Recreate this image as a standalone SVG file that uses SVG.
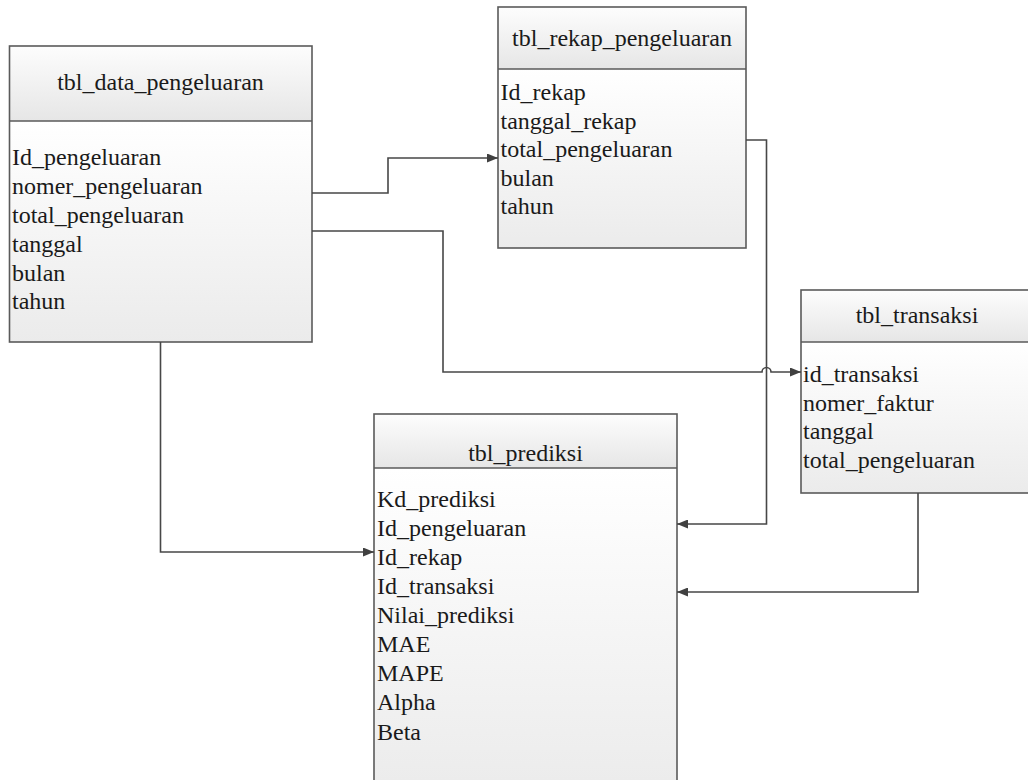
<svg xmlns="http://www.w3.org/2000/svg" width="1028" height="780" viewBox="0 0 1028 780">
<defs>
<linearGradient id="gHead" x1="0" y1="0" x2="0" y2="1">
<stop offset="0" stop-color="#fdfdfd"/>
<stop offset="1" stop-color="#e6e6e6"/>
</linearGradient>
<linearGradient id="gBody" x1="0" y1="0" x2="0" y2="1">
<stop offset="0" stop-color="#ffffff"/>
<stop offset="1" stop-color="#ebebeb"/>
</linearGradient>
<marker id="arr" markerUnits="userSpaceOnUse" markerWidth="11" markerHeight="9" refX="11" refY="4.5" orient="auto">
<path d="M0,0 L11,4.5 L0,9 z" fill="#404040"/>
</marker>
<style>
.box{stroke:#5a5a5a;stroke-width:1.6}
.hd{fill:url(#gHead)}
.bd{fill:url(#gBody)}
.t{font-size:24px;fill:#1a1a1a}
.c{text-anchor:middle}
.cn{fill:none;stroke:#474747;stroke-width:1.6;marker-end:url(#arr)}
</style>
</defs>
<rect width="1028" height="780" fill="#ffffff"/>

<g id="tbl_data_pengeluaran" font-family="'Liberation Serif', Tinos, 'DejaVu Serif', serif">
<rect class="hd" x="9.5" y="46" width="302.5" height="75"/>
<rect class="bd" x="9.5" y="121" width="302.5" height="221"/>
<rect class="box" fill="none" x="9.5" y="46" width="302.5" height="296"/>
<line class="box" x1="9.5" y1="121" x2="312" y2="121"/>
<text class="t c" x="160.5" y="90">tbl_data_pengeluaran</text>
<text class="t" x="12" y="165">Id_pengeluaran</text>
<text class="t" x="12" y="194">nomer_pengeluaran</text>
<text class="t" x="12" y="222.5">total_pengeluaran</text>
<text class="t" x="12" y="251.5">tanggal</text>
<text class="t" x="12" y="280.5">bulan</text>
<text class="t" x="12" y="309">tahun</text>
</g>

<g id="tbl_rekap_pengeluaran" font-family="'Liberation Serif', Tinos, 'DejaVu Serif', serif">
<rect class="hd" x="498" y="7" width="248" height="62"/>
<rect class="bd" x="498" y="69" width="248" height="179"/>
<rect class="box" fill="none" x="498" y="7" width="248" height="241"/>
<line class="box" x1="498" y1="69" x2="746" y2="69"/>
<text class="t c" x="622" y="46">tbl_rekap_pengeluaran</text>
<text class="t" x="500.5" y="100">Id_rekap</text>
<text class="t" x="500.5" y="129">tanggal_rekap</text>
<text class="t" x="500.5" y="157">total_pengeluaran</text>
<text class="t" x="500.5" y="186">bulan</text>
<text class="t" x="500.5" y="214">tahun</text>
</g>

<g id="tbl_transaksi" font-family="'Liberation Serif', Tinos, 'DejaVu Serif', serif">
<rect class="hd" x="801" y="290" width="232" height="52"/>
<rect class="bd" x="801" y="342" width="232" height="151"/>
<rect class="box" fill="none" x="801" y="290" width="232" height="203"/>
<line class="box" x1="801" y1="342" x2="1033" y2="342"/>
<text class="t c" x="917" y="323">tbl_transaksi</text>
<text class="t" x="803" y="382">id_transaksi</text>
<text class="t" x="803" y="411">nomer_faktur</text>
<text class="t" x="803" y="439">tanggal</text>
<text class="t" x="803" y="468">total_pengeluaran</text>
</g>

<g id="tbl_prediksi" font-family="'Liberation Serif', Tinos, 'DejaVu Serif', serif">
<rect class="hd" x="374" y="414" width="303" height="54"/>
<rect class="bd" x="374" y="468" width="303" height="330"/>
<rect class="box" fill="none" x="374" y="414" width="303" height="384"/>
<line class="box" x1="374" y1="468" x2="677" y2="468"/>
<text class="t c" x="525.5" y="461">tbl_prediksi</text>
<text class="t" x="377" y="507">Kd_prediksi</text>
<text class="t" x="377" y="536">Id_pengeluaran</text>
<text class="t" x="377" y="565">Id_rekap</text>
<text class="t" x="377" y="594">Id_transaksi</text>
<text class="t" x="377" y="623">Nilai_prediksi</text>
<text class="t" x="377" y="652">MAE</text>
<text class="t" x="377" y="681">MAPE</text>
<text class="t" x="377" y="710">Alpha</text>
<text class="t" x="377" y="740">Beta</text>
</g>

<g id="connectors">
<path class="cn" d="M312,193 H388 V158 H498"/>
<path class="cn" d="M312,231 H443 V372 H762 A4.5,4.5 0 0 1 771,372 H801"/>
<path class="cn" d="M746,140 H766.5 V524 H677"/>
<path class="cn" d="M918,493 V592 H677"/>
<path class="cn" d="M160.5,342 V552 H374"/>
</g>
</svg>
